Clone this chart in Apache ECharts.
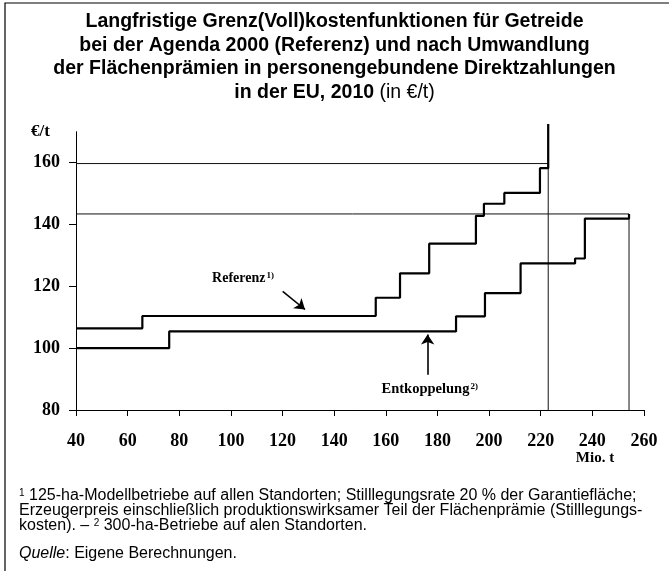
<!doctype html>
<html>
<head>
<meta charset="UTF-8">
<title>Grenzkostenfunktionen Getreide</title>
<script src="https://cdn.jsdelivr.net/npm/echarts@6/dist/echarts.min.js"></script>
<style>
  html, body { margin: 0; padding: 0; background: #fff; }
  #main { width: 669px; height: 571px; }
</style>
</head>
<body>
<div id="main"></div>
<script>
// Stufen: x = Mio. t ab dem die Stufe gilt, y = Grenzkosten in €/t
var referenzX = [40, 65.7, 156.1, 165.5, 176.8, 194.9, 198.0, 205.9, 219.7, 222.9];
var referenzY = [106.4, 110.4, 116.3, 124.2, 133.8, 142.8, 146.7, 150.2, 158.2, 172.5];
var entkoppX = [40, 76.1, 187.2, 198.4, 212.2, 233.3, 237.1, 254.2];
var entkoppY = [100, 105.4, 110.3, 117.8, 127.4, 129.0, 141.9, 143.4];

// Hilfslinien (Preisniveau und Mengengrenze)
var preisRef = 159.7, mengeRef = 222.9;
var preisEnt = 143.4, mengeEnt = 254.2;
var oberkante = 172.5;

var yTicks = [80, 100, 120, 140, 160];

function pairs(xs, ys) {
  var out = [];
  for (var i = 0; i < xs.length; i++) out.push([xs[i], ys[i]]);
  return out;
}

var serif = 'Liberation Serif';
var sans = 'Liberation Sans';
var thin = { color: '#111', width: 1 };

var myChart = echarts.init(document.getElementById('main'));
var option = {
  animation: false,
  title: [{
    text: 'Langfristige Grenz(Voll)kostenfunktionen für Getreide\n' +
          'bei der Agenda 2000 (Referenz) und nach Umwandlung\n' +
          'der Flächenprämien in personengebundene Direktzahlungen\n' +
          '{b|in der EU, 2010} {n|(in €/t)}',
    left: 'center',
    top: 10,
    padding: 0,
    textStyle: {
      fontFamily: sans, fontSize: 19.5, fontWeight: 'bold', color: '#000',
      lineHeight: 23.5,
      rich: {
        b: { fontFamily: sans, fontSize: 19.5, fontWeight: 'bold', color: '#000', lineHeight: 23.5 },
        n: { fontFamily: sans, fontSize: 19.5, fontWeight: 'normal', color: '#000', lineHeight: 23.5 }
      }
    }
  }, {
    text: '{s|1} 125-ha-Modellbetriebe auf allen Standorten; Stilllegungsrate 20 % der Garantiefläche;\n' +
          'Erzeugerpreis einschließlich produktionswirksamer Teil der Flächenprämie (Stilllegungs-\n' +
          'kosten). – {s|2} 300-ha-Betriebe auf alen Standorten.',
    left: 14,
    top: 483,
    textStyle: {
      fontFamily: sans, fontSize: 16, fontWeight: 'normal', color: '#000', lineHeight: 15,
      rich: {
        s: { fontFamily: sans, fontSize: 10, color: '#000', verticalAlign: 'top', lineHeight: 15, padding: [0, 0, 7, 0] }
      }
    }
  }, {
    text: '{i|Quelle}: Eigene Berechnungen.',
    left: 14,
    top: 541,
    textStyle: {
      fontFamily: sans, fontSize: 16, fontWeight: 'normal', color: '#000',
      rich: {
        i: { fontFamily: sans, fontSize: 16, fontStyle: 'italic', color: '#000' }
      }
    }
  }],
  graphic: [{
    type: 'rect',
    shape: { x: 5, y: 3, width: 700, height: 620 },
    style: { fill: 'none', stroke: '#000', lineWidth: 1.2 },
    silent: true
  }],
  grid: { left: 76, right: 25, top: 131.7, bottom: 161 },
  xAxis: {
    type: 'value',
    min: 40, max: 260, interval: 20,
    name: 'Mio. t',
    nameLocation: 'end',
    nameGap: -49,
    nameTextStyle: {
      fontFamily: serif, fontSize: 15, fontWeight: 'bold', color: '#000',
      align: 'center', verticalAlign: 'top', padding: [41, 0, 0, 0]
    },
    axisLine: { lineStyle: { color: '#000', width: 1 } },
    axisTick: { length: 6, lineStyle: { color: '#000' } },
    axisLabel: { margin: 22, fontFamily: serif, fontSize: 18, fontWeight: 'bold', color: '#000' },
    splitLine: { show: false }
  },
  yAxis: {
    type: 'value',
    min: 80, max: 170, interval: 10,
    name: '€/t',
    nameLocation: 'end',
    nameGap: 0,
    nameTextStyle: {
      fontFamily: serif, fontSize: 17, fontWeight: 'bold', color: '#000',
      align: 'right', verticalAlign: 'middle', padding: [0, 26, 0, 0]
    },
    axisLine: { show: true, lineStyle: { color: '#000', width: 1 } },
    axisTick: { show: true, length: 7, customValues: yTicks, lineStyle: { color: '#000' } },
    axisLabel: { margin: 16, customValues: yTicks, fontFamily: serif, fontSize: 18, fontWeight: 'bold', color: '#000' },
    splitLine: { show: false }
  },
  series: [{
    name: 'Preis Referenz',
    type: 'line', silent: true, symbol: 'none', clip: false,
    lineStyle: thin,
    data: [[40, preisRef], [mengeRef, preisRef]]
  }, {
    name: 'Menge Referenz',
    type: 'line', silent: true, symbol: 'none', clip: false,
    lineStyle: thin,
    data: [[mengeRef, 80], [mengeRef, oberkante]]
  }, {
    name: 'Preis Entkoppelung',
    type: 'line', silent: true, symbol: 'none', clip: false,
    lineStyle: thin,
    data: [[40, preisEnt], [mengeEnt, preisEnt]]
  }, {
    name: 'Menge Entkoppelung',
    type: 'line', silent: true, symbol: 'none', clip: false,
    lineStyle: thin,
    data: [[mengeEnt, 80], [mengeEnt, preisEnt]]
  }, {
    name: 'Referenz',
    type: 'line', step: 'end', symbol: 'none', clip: false,
    lineStyle: { color: '#000', width: 2.2 },
    data: pairs(referenzX, referenzY),
    markLine: {
      silent: true, symbol: ['none', 'arrow'], symbolSize: 10,
      label: { show: false },
      lineStyle: { color: '#000', width: 1.6, type: 'solid' },
      data: [[{ coord: [120.05, 118.4] }, { coord: [128.7, 112.5] }]]
    },
    markPoint: {
      silent: true, symbol: 'circle', symbolSize: 1,
      itemStyle: { color: 'rgba(0,0,0,0)' },
      label: {
        show: true, position: 'inside',
        formatter: '{a|Referenz}{s|1)}',
        rich: {
          a: { fontFamily: serif, fontSize: 14, fontWeight: 'bold', color: '#000' },
          s: { fontFamily: serif, fontSize: 9, fontWeight: 'bold', color: '#000', verticalAlign: 'top', padding: [0, 0, 6, 1] }
        }
      },
      data: [{ coord: [104.7, 122.4] }]
    }
  }, {
    name: 'Entkoppelung',
    type: 'line', step: 'end', symbol: 'none', clip: false,
    lineStyle: { color: '#000', width: 2.2 },
    data: pairs(entkoppX, entkoppY),
    markLine: {
      silent: true, symbol: ['none', 'arrow'], symbolSize: 10,
      label: { show: false },
      lineStyle: { color: '#000', width: 1.6, type: 'solid' },
      data: [[{ coord: [176.2, 91.4] }, { coord: [176.2, 104.4] }]]
    },
    markPoint: {
      silent: true, symbol: 'circle', symbolSize: 1,
      itemStyle: { color: 'rgba(0,0,0,0)' },
      label: {
        show: true, position: 'inside',
        formatter: '{a|Entkoppelung}{s|2)}',
        rich: {
          a: { fontFamily: serif, fontSize: 14.5, fontWeight: 'bold', color: '#000' },
          s: { fontFamily: serif, fontSize: 9, fontWeight: 'bold', color: '#000', verticalAlign: 'top', padding: [0, 0, 6, 1] }
        }
      },
      data: [{ coord: [177, 86.7] }]
    }
  }]
};
myChart.setOption(option);
</script>
</body>
</html>
